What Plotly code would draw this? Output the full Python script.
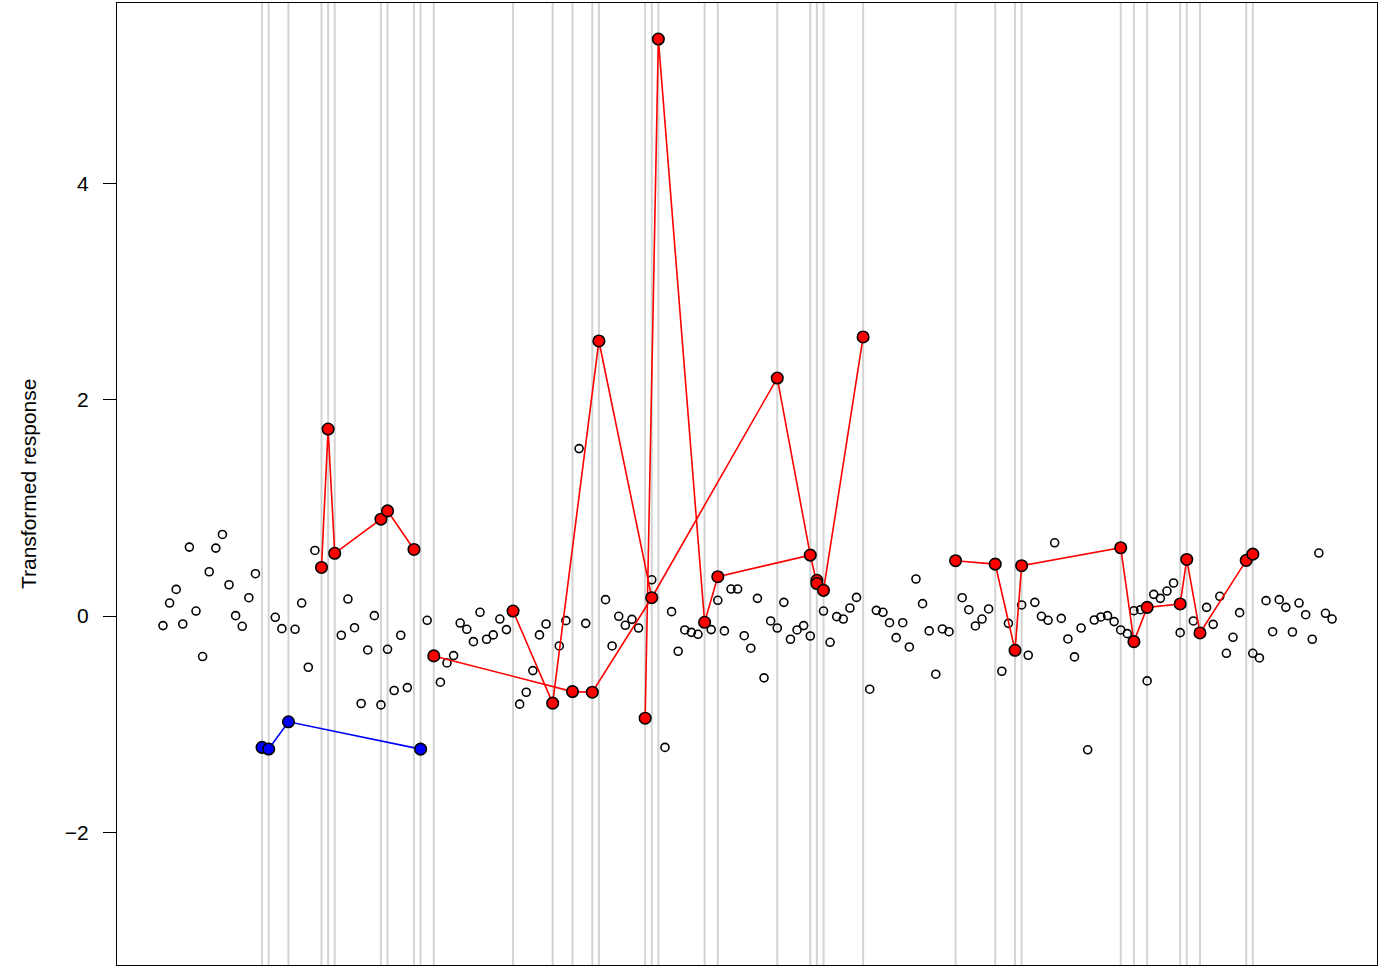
import plotly.graph_objects as go

# ---- data ----
open_x = [1, 2, 3, 4, 5, 6, 7, 8, 9, 10, 11, 12, 13, 14, 15, 18, 19, 21, 22, 23, 24,
          28, 29, 30, 31, 32, 33, 34, 35, 36, 37, 38, 41, 43, 44, 45, 46, 47, 48, 49, 50,
          51, 52, 53, 55, 56, 57, 58, 59, 61, 62, 64, 65, 68, 69, 70, 71, 72, 73, 75, 77,
          78, 79, 80, 81, 82, 84, 85, 86, 87, 88, 89, 90, 91, 92, 93, 94, 95, 96, 97, 98,
          99, 101, 102, 103, 104, 105, 106, 108, 109, 110, 111, 112, 113, 114, 115, 116,
          117, 118, 119, 120, 122, 123, 124, 125, 126, 128, 129, 131, 132, 133, 134, 135,
          136, 137, 138, 139, 140, 141, 142, 143, 144, 145, 146, 147, 148, 149, 150, 151,
          152, 153, 154, 155, 157, 159, 160, 161, 162, 163, 164, 166, 167, 168, 169, 170,
          171, 172, 173, 174, 175, 176, 177, 178]
open_y = [-0.089, 0.12, 0.246, -0.074, 0.637, 0.046, -0.375, 0.409, 0.628, 0.754, 0.289,
          0.003, -0.095, 0.169, 0.391, -0.012, -0.117, -0.123, 0.12, -0.474, 0.606,
          -0.178, 0.157, -0.108, -0.809, -0.314, 0.003, -0.822, -0.308, -0.689, -0.178,
          -0.662, -0.04, -0.612, -0.434, -0.366, -0.065, -0.123, -0.237, 0.034, -0.215,
          -0.175, -0.028, -0.126, -0.815, -0.705, -0.505, -0.175, -0.074, -0.277, -0.043,
          1.548, -0.068, 0.151, -0.277, -0.003, -0.086, -0.031, -0.111, 0.335, -1.215,
          0.04, -0.326, -0.129, -0.151, -0.169, -0.126, 0.145, -0.138, 0.249, 0.249,
          -0.182, -0.298, 0.163, -0.572, -0.046, -0.111, 0.126, -0.215, -0.129, -0.089,
          -0.185, 0.046, -0.243, -0.006, -0.028, 0.074, 0.172, -0.677, 0.052, 0.034,
          -0.062, -0.2, -0.062, -0.286, 0.342, 0.114, -0.138, -0.538, -0.12, -0.145,
          0.169, 0.058, -0.092, -0.028, 0.065, -0.511, -0.068, 0.102, -0.363, 0.126,
          -0.003, -0.04, 0.677, -0.022, -0.212, -0.378, -0.111, -1.237, -0.037, -0.009,
          0.003, -0.052, -0.129, -0.163, 0.049, 0.058, -0.6, 0.2, 0.163, 0.231, 0.305,
          -0.154, -0.046, 0.08, -0.077, 0.182, -0.345, -0.197, 0.031, -0.345, -0.388,
          0.142, -0.145, 0.151, 0.08, -0.148, 0.12, 0.012, -0.215, 0.582, 0.025, -0.028]

red_x = [25, 26, 27, 34, 35, 39, 42, 54, 60, 63, 66, 67, 74, 75, 76, 83, 85, 94, 99,
         100, 100, 101, 107, 121, 127, 130, 131, 146, 148, 150, 155, 156, 158, 165, 166]
red_y = [0.449, 1.729, 0.58, 0.895, 0.972, 0.615, -0.369, 0.046, -0.806, -0.699, -0.705,
         2.543, -0.945, 0.169, 5.335, -0.058, 0.363, 2.2, 0.563, 0.33, 0.30, 0.237,
         2.58, 0.511, 0.48, -0.317, 0.465, 0.631, -0.237, 0.08, 0.111, 0.523, -0.157,
         0.514, 0.572]
red_paths = [
    [25, 26, 27, 34, 35, 39],
    [42, 63, 66, 75, 94, 99, 100, 101, 107],
    [54, 60, 67, 75],
    [74, 76, 83, 85, 99],
    [121, 127, 130, 131, 146, 148, 150, 155, 156, 158, 165, 166],
]

blue_x = [16, 17, 20, 40]
blue_y = [-1.215, -1.23, -0.978, -1.231]

y_ticks = [-2, 0, 2, 4]
y_title = "Transformed response"

# ---- build figure ----
fig = go.Figure()

red_lookup = dict(zip(red_x, red_y))
line_x, line_y = [], []
for p in red_paths:
    line_x += p + [None]
    line_y += [red_lookup[i] for i in p] + [None]

# gray vertical guide lines at highlighted positions
for xv in sorted(set(red_x + blue_x)):
    fig.add_shape(type="line", xref="x", yref="paper", x0=xv, x1=xv, y0=0, y1=1,
                  line=dict(color="#D3D3D3", width=2), layer="below")

fig.add_trace(go.Scatter(x=open_x, y=open_y, mode="markers",
                         marker=dict(symbol="circle-open", size=8, color="black",
                                     line=dict(width=1.6, color="black")),
                         showlegend=False, hoverinfo="skip"))
fig.add_trace(go.Scatter(x=line_x, y=line_y, mode="lines",
                         line=dict(color="#FF0000", width=1.6),
                         showlegend=False, hoverinfo="skip", connectgaps=False))
fig.add_trace(go.Scatter(x=blue_x, y=blue_y, mode="lines",
                         line=dict(color="#0000FF", width=1.6),
                         showlegend=False, hoverinfo="skip"))
fig.add_trace(go.Scatter(x=red_x, y=red_y, mode="markers",
                         marker=dict(symbol="circle", size=11.5, color="#FF0000",
                                     line=dict(width=1.6, color="black")),
                         showlegend=False))
fig.add_trace(go.Scatter(x=blue_x, y=blue_y, mode="markers",
                         marker=dict(symbol="circle", size=11.5, color="#0000FF",
                                     line=dict(width=1.6, color="black")),
                         showlegend=False))

fig.update_layout(
    width=1395, height=969,
    margin=dict(l=117, r=18, t=3, b=4),
    paper_bgcolor="white", plot_bgcolor="white",
    font=dict(family="Liberation Sans, Arial, sans-serif", size=21, color="black"),
    xaxis=dict(range=[-5.96, 184.8], showgrid=False, zeroline=False,
               showticklabels=False, ticks="", showline=True, mirror=True,
               linecolor="black", linewidth=1),
    yaxis=dict(range=[-3.227, 5.668], showgrid=False, zeroline=False,
               tickvals=y_ticks, ticks="outside", ticklen=13, tickwidth=1,
               tickcolor="black", ticklabelstandoff=10,
               showline=True, mirror=True, linecolor="black", linewidth=1,
               tickfont=dict(size=21)),
    annotations=[dict(text=y_title, xref="paper", yref="paper",
                      x=-0.0706, y=0.5, xanchor="center", yanchor="middle",
                      textangle=-90, showarrow=False, font=dict(size=21))],
)

fig.write_html("out.html", config={"displayModeBar": False},
               post_script="document.body.style.margin='0px';document.body.style.padding='0px';")
